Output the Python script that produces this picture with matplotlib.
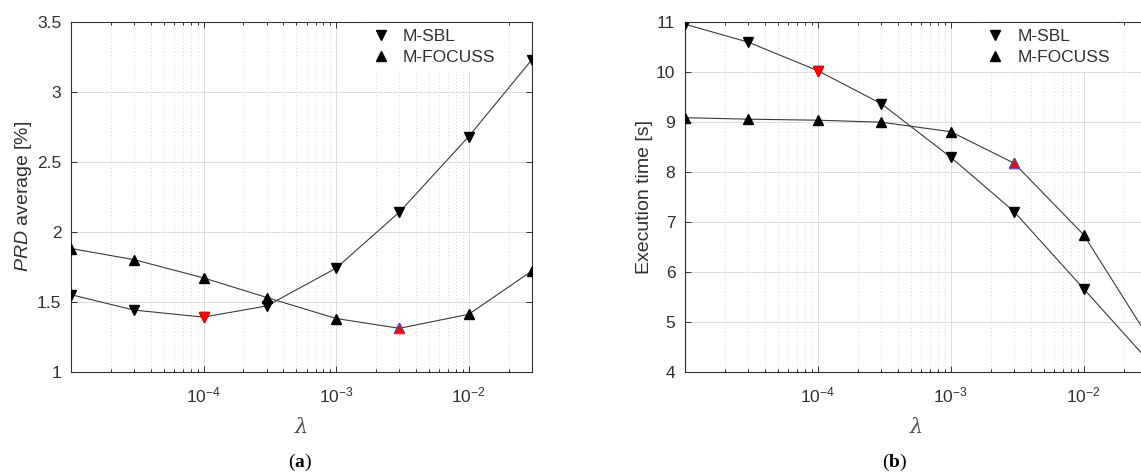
import numpy as np
import matplotlib.pyplot as plt
from matplotlib.lines import Line2D
from matplotlib.ticker import LogLocator, FixedLocator, NullFormatter

plt.rcParams['font.family'] = ['Liberation Sans', 'DejaVu Sans']
plt.rcParams['mathtext.fontset'] = 'custom'
plt.rcParams['mathtext.rm'] = 'Liberation Sans'
plt.rcParams['mathtext.it'] = 'Liberation Sans:italic'
plt.rcParams['mathtext.bf'] = 'Liberation Serif:bold'

# regularisation parameter values
lam = [1e-5, 3e-5, 1e-4, 3e-4, 1e-3, 3e-3, 1e-2, 3e-2]

# PRD average [%]
prd_sbl = [1.55, 1.44, 1.39, 1.47, 1.74, 2.14, 2.68, 3.23]
prd_focuss = [1.88, 1.80, 1.67, 1.53, 1.38, 1.31, 1.41, 1.72]

# execution time [s]
time_sbl = [10.95, 10.59, 10.02, 9.36, 8.29, 7.20, 5.66, 4.25]
time_focuss = [9.08, 9.05, 9.03, 8.99, 8.80, 8.17, 6.74, 4.73]

# index of the chosen lambda for each method
best_sbl = 2
best_focuss = 5

xticks = [1e-4, 1e-3, 1e-2]
xticklabels = [r'$10^{-4}$', r'$10^{-3}$', r'$10^{-2}$']

TXT = '#303030'
FS = 12.5

fig = plt.figure(figsize=(11.41, 4.74), dpi=100)
ax_a = fig.add_axes([71/1141, 102.3/474, 461/1141, 350/474])
ax_b = fig.add_axes([685/1141, 102.3/474, 462/1141, 350/474])


def draw(ax, y_sbl, y_foc, ylim, yticks, ylabel, ypad):
    ax.plot(lam, y_sbl, '-', color='#3a3a3a', lw=0.8, zorder=3)
    ax.plot(lam, y_foc, '-', color='#3a3a3a', lw=0.8, zorder=3)
    ax.plot(lam, y_sbl, 'v', color='black', ms=7, ls='none', zorder=4)
    ax.plot(lam, y_foc, '^', color='black', ms=7, ls='none', zorder=4)
    ax.plot(lam[best_sbl], y_sbl[best_sbl], 'v', mfc='red', mec='red',
            ms=7, zorder=5)
    ax.plot(lam[best_focuss], y_foc[best_focuss], '^', mfc='red',
            mec='#6a4fc0', mew=0.8, ms=7, zorder=5)

    ax.set_xscale('log')
    ax.set_xlim(lam[0], lam[-1])
    ax.set_ylim(*ylim)
    ax.xaxis.set_major_locator(FixedLocator(xticks))
    ax.set_xticklabels(xticklabels)
    ax.xaxis.set_minor_locator(LogLocator(base=10, subs=np.arange(2, 10)))
    ax.xaxis.set_minor_formatter(NullFormatter())
    ax.set_yticks(yticks)
    ax.set_yticklabels([f'{t:g}' for t in yticks])

    ax.grid(which='major', color='#dcdcdc', lw=0.7, zorder=0)
    ax.grid(which='minor', axis='x', color='#c8c8c8', lw=0.6, ls=(0, (1, 3)),
            zorder=0)
    ax.set_axisbelow(True)

    ax.tick_params(which='both', direction='in', top=True, right=True,
                   colors=TXT, labelsize=FS, width=0.7)
    ax.tick_params(which='major', length=4, pad=7)
    ax.tick_params(axis='x', which='major', pad=10)
    ax.tick_params(which='minor', length=2)
    for s in ax.spines.values():
        s.set_color(TXT)
        s.set_linewidth(0.8)

    ax.set_ylabel(ylabel, fontsize=14, color=TXT, labelpad=ypad)
    ax.set_xlabel('λ', fontsize=15, color='#505050', style='italic',
                  family='DejaVu Serif', labelpad=9)

    handles = [Line2D([], [], marker='v', color='black', ls='none', ms=7),
               Line2D([], [], marker='^', color='black', ls='none', ms=7)]
    leg = ax.legend(handles, ['M-SBL', 'M-FOCUSS'], loc='upper left',
                    bbox_to_anchor=(0.64, 0.997), fontsize=FS, frameon=True,
                    fancybox=False, framealpha=1, edgecolor='none',
                    facecolor='white', handlelength=1.0, handletextpad=0.75,
                    labelspacing=0.32, borderpad=0.35, borderaxespad=0.0)
    for t in leg.get_texts():
        t.set_color(TXT)


draw(ax_a, prd_sbl, prd_focuss, (1, 3.5), [1, 1.5, 2, 2.5, 3, 3.5],
     r'$\mathit{PRD}$ average [%]', 2)
draw(ax_b, time_sbl, time_focuss, (4, 11), list(range(4, 12)),
     'Execution time [s]', 2)

fig.text(300/1141, 1 - 462/474, r'($\mathbf{a}$)', family='Liberation Serif',
         fontsize=14, ha='center', va='center', color='black')
fig.text(895/1141, 1 - 462/474, r'($\mathbf{b}$)', family='Liberation Serif',
         fontsize=14, ha='center', va='center', color='black')

fig.savefig('out.png', dpi=100)
